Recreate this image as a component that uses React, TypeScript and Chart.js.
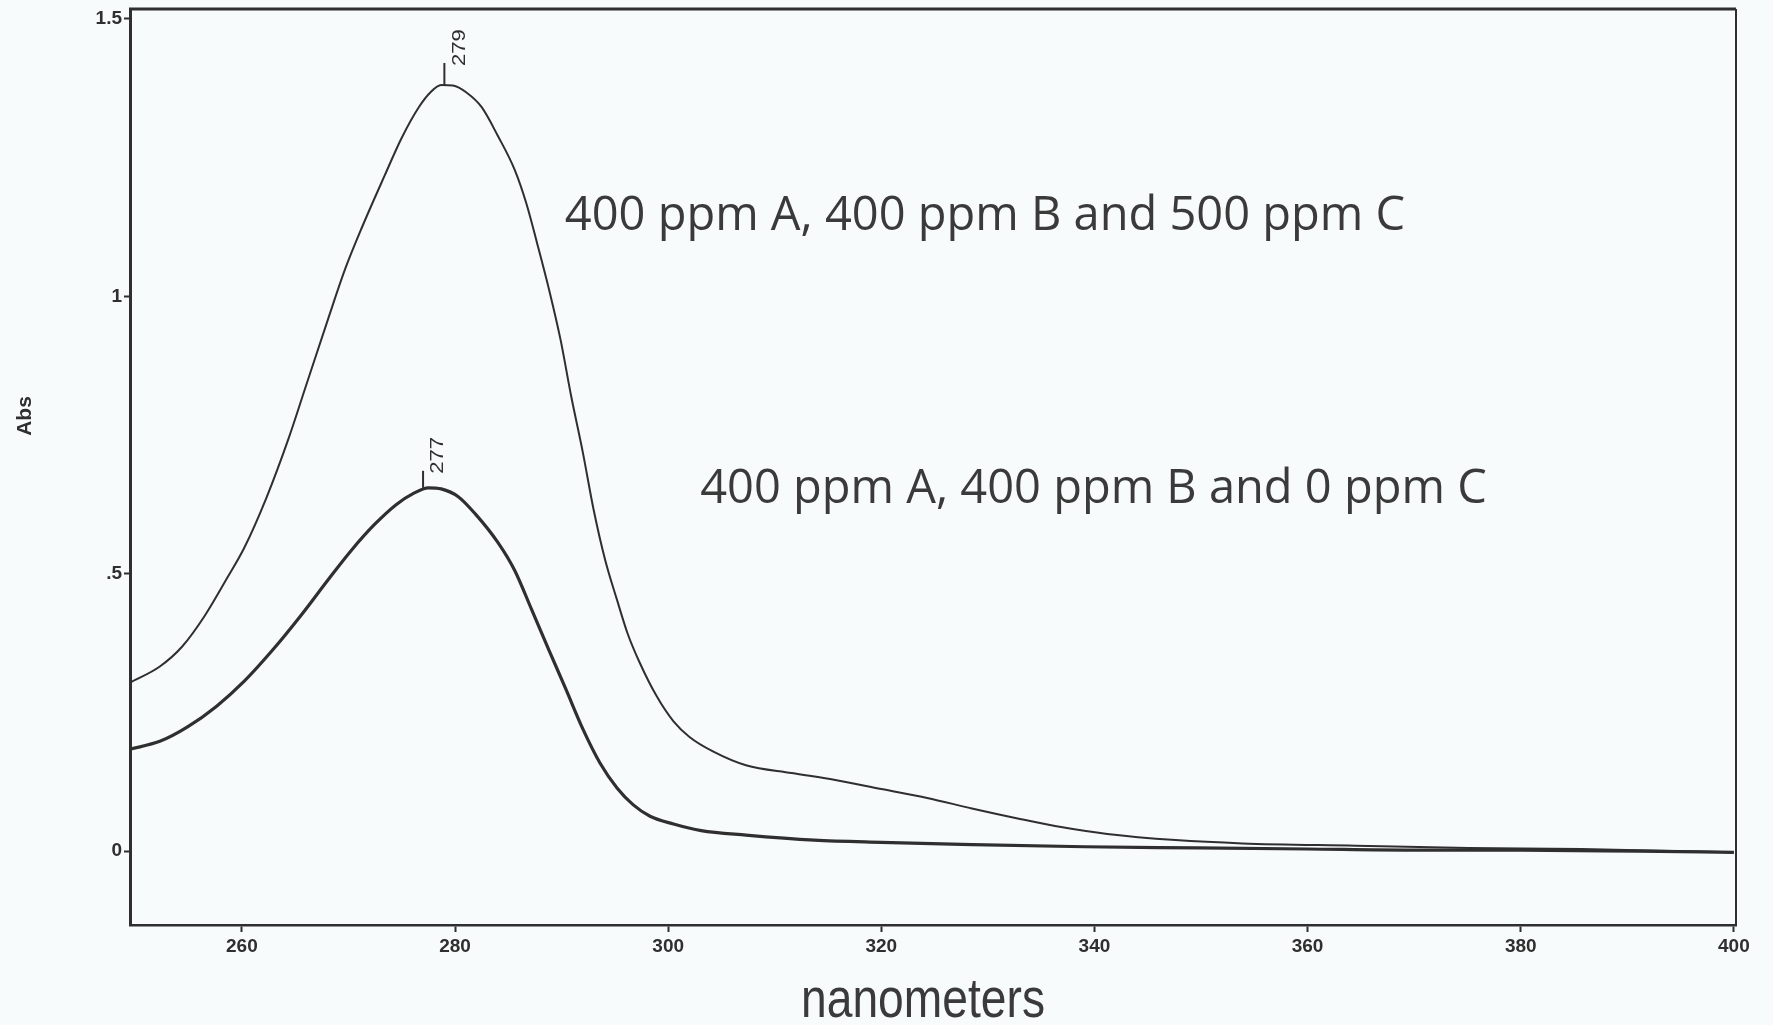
import React, { useEffect, useRef } from 'react';
import { Chart, registerables } from 'chart.js';

Chart.register(...registerables);

// ---- data ----
const upperWavelengths = [249.5, 252.3, 254.4, 256.5, 258.6, 260.2, 262.3, 264.4, 266.0, 268.1, 269.7, 271.3, 273.4, 275.0, 276.6, 277.7, 278.7, 279.8, 281.1, 282.5, 284.0, 285.6, 286.7, 287.7, 288.8, 289.9, 290.9, 292.0, 293.0, 294.1, 295.2, 296.2, 297.3, 298.9, 300.5, 302.0, 304.2, 307.3, 311.6, 315.8, 320.0, 324.3, 328.5, 332.8, 337.0, 341.2, 347.6, 353.9, 364.5, 375.1, 385.7, 400.0];
const upperAbs = [0.304, 0.333, 0.369, 0.424, 0.492, 0.546, 0.637, 0.745, 0.838, 0.960, 1.050, 1.126, 1.218, 1.286, 1.341, 1.368, 1.381, 1.380, 1.367, 1.341, 1.290, 1.228, 1.167, 1.096, 1.014, 0.922, 0.820, 0.718, 0.616, 0.524, 0.453, 0.392, 0.341, 0.280, 0.234, 0.206, 0.180, 0.155, 0.141, 0.128, 0.112, 0.096, 0.077, 0.059, 0.043, 0.031, 0.020, 0.014, 0.010, 0.006, 0.004, -0.002];

const lowerWavelengths = [249.5, 252.3, 254.9, 257.6, 260.2, 262.9, 265.5, 268.2, 270.3, 272.4, 274.5, 276.1, 277.5, 278.7, 280.3, 281.9, 284.0, 285.6, 287.2, 288.8, 290.4, 292.0, 293.6, 295.2, 296.7, 298.3, 300.5, 303.1, 307.3, 313.7, 320.0, 328.5, 339.1, 349.7, 360.0, 369.8, 380.0, 391.0, 400.0];
const lowerAbs = [0.184, 0.198, 0.224, 0.261, 0.306, 0.363, 0.424, 0.492, 0.543, 0.588, 0.625, 0.645, 0.655, 0.653, 0.639, 0.608, 0.557, 0.506, 0.435, 0.363, 0.292, 0.220, 0.159, 0.114, 0.084, 0.063, 0.049, 0.037, 0.029, 0.020, 0.016, 0.012, 0.008, 0.006, 0.004, 0.002, 0.002, 0.000, -0.002];

const xTickValues = [260, 280, 300, 320, 340, 360, 380, 400];
const yTickValues = [0, 0.5, 1, 1.5];
const yTickLabels = ['0', '.5', '1', '1.5'];

const peakWavelengths = [279, 277];
const peakAbs = [1.381, 0.655];
const peakLabels = ['279', '277'];

const seriesLabels = ['400 ppm A, 400 ppm B and 500 ppm C', '400 ppm A, 400 ppm B and 0 ppm C'];
const labelAnchorX = [290.3, 303.0];
const labelAnchorY = [1.12, 0.628];

const xTitle = 'nanometers';
const yTitle = 'Abs';

// ---- styles ----
const INK = '#2f2f2f';
const TEXT = '#3a3a3a';
const BG = '#f8fbfb';

const decorPlugin = {
  id: 'decor',
  beforeDraw(chart: any) {
    const { ctx, width, height } = chart;
    ctx.save();
    ctx.fillStyle = BG;
    ctx.fillRect(0, 0, width, height);
    ctx.restore();
  },
  afterDatasetsDraw(chart: any) {
    const { ctx, chartArea, scales } = chart;
    const xs = scales.x;
    const ys = scales.y;
    ctx.save();
    // frame top & right
    ctx.strokeStyle = INK;
    ctx.lineWidth = 3;
    ctx.beginPath();
    ctx.moveTo(chartArea.left - 1, chartArea.top);
    ctx.lineTo(chartArea.right, chartArea.top);
    ctx.stroke();
    ctx.lineWidth = 2;
    ctx.beginPath();
    ctx.moveTo(chartArea.right, chartArea.top);
    ctx.lineTo(chartArea.right, chartArea.bottom);
    ctx.stroke();

    // peak markers
    const stemLen = [22, 17];
    const labelOffset = [16, 15];
    peakWavelengths.forEach((w, i) => {
      const px = xs.getPixelForValue(w);
      const py = ys.getPixelForValue(peakAbs[i]);
      const top = py - stemLen[i];
      ctx.strokeStyle = INK;
      ctx.lineWidth = 2;
      ctx.beginPath();
      ctx.moveTo(px, py);
      ctx.lineTo(px, top);
      ctx.stroke();
      ctx.save();
      ctx.translate(px + labelOffset[i], top + 3);
      ctx.rotate(-Math.PI / 2);
      ctx.scale(1.05, 0.85);
      ctx.fillStyle = INK;
      ctx.font = "21px 'Liberation Sans', Arial, sans-serif";
      ctx.textAlign = 'left';
      ctx.textBaseline = 'middle';
      ctx.fillText(peakLabels[i], 0, 0);
      ctx.restore();
    });

    // series annotations
    ctx.fillStyle = TEXT;
    ctx.font = "47px 'Open Sans', 'Noto Sans', sans-serif";
    ctx.textAlign = 'left';
    ctx.textBaseline = 'alphabetic';
    seriesLabels.forEach((t, i) => {
      ctx.fillText(t, xs.getPixelForValue(labelAnchorX[i]), ys.getPixelForValue(labelAnchorY[i]));
    });

    // y title
    ctx.save();
    ctx.translate(25, 416);
    ctx.rotate(-Math.PI / 2);
    ctx.fillStyle = INK;
    ctx.font = "bold 21px 'Liberation Sans', Arial, sans-serif";
    ctx.textAlign = 'center';
    ctx.textBaseline = 'middle';
    ctx.fillText(yTitle, 0, 0);
    ctx.restore();

    // x title (narrow sans)
    ctx.save();
    ctx.translate(923, 1017);
    ctx.scale(0.84, 1);
    ctx.fillStyle = TEXT;
    ctx.font = "55px 'Liberation Sans', Arial, sans-serif";
    ctx.textAlign = 'center';
    ctx.textBaseline = 'alphabetic';
    ctx.fillText(xTitle, 0, 0);
    ctx.restore();

    ctx.restore();
  },
};

export default function App() {
  const canvasRef = useRef<HTMLCanvasElement | null>(null);

  useEffect(() => {
    document.body.style.margin = '0';
    document.body.style.background = BG;
    const canvas = canvasRef.current;
    if (!canvas) return;

    const upperPts = upperWavelengths.map((x, i) => ({ x, y: upperAbs[i] }));
    const lowerPts = lowerWavelengths.map((x, i) => ({ x, y: lowerAbs[i] }));

    const tickFont = { family: "'Liberation Sans', Arial, sans-serif", size: 19, weight: 'bold' as const };

    const chart = new Chart(canvas, {
      type: 'line',
      data: {
        datasets: [
          {
            label: seriesLabels[0],
            data: upperPts,
            borderColor: INK,
            borderWidth: 2,
            pointRadius: 0,
            tension: 0.4,
            cubicInterpolationMode: 'monotone',
            fill: false,
          },
          {
            label: seriesLabels[1],
            data: lowerPts,
            borderColor: INK,
            borderWidth: 3.2,
            pointRadius: 0,
            tension: 0.4,
            cubicInterpolationMode: 'monotone',
            fill: false,
          },
        ],
      },
      options: {
        animation: false,
        responsive: true,
        maintainAspectRatio: false,
        devicePixelRatio: 1,
        layout: { padding: { top: 9, right: 37, left: 0, bottom: 0 } },
        plugins: {
          legend: { display: false },
          tooltip: { enabled: false },
          title: { display: false },
        },
        scales: {
          x: {
            type: 'linear',
            min: 249.5,
            max: 400.2,
            afterBuildTicks: (s: any) => {
              s.ticks = xTickValues.map((v) => ({ value: v }));
            },
            afterFit: (s: any) => {
              s.height = 100;
              s.paddingLeft = 0;
              s.paddingRight = 0;
            },
            ticks: {
              color: INK,
              font: tickFont,
              padding: 3,
              maxRotation: 0,
              autoSkip: false,
              callback: (v: any) => String(v),
            },
            grid: {
              drawOnChartArea: false,
              drawTicks: true,
              tickLength: 7,
              tickColor: INK,
              tickWidth: 2,
            },
            border: { display: true, color: INK, width: 2.5 },
            title: { display: false },
          },
          y: {
            type: 'linear',
            min: -0.133,
            max: 1.518,
            afterBuildTicks: (s: any) => {
              s.ticks = yTickValues.map((v) => ({ value: v }));
            },
            afterFit: (s: any) => {
              s.width = 130;
              s.paddingTop = 0;
              s.paddingBottom = 0;
            },
            ticks: {
              color: INK,
              font: tickFont,
              padding: 2,
              autoSkip: false,
              callback: (v: any) => {
                const i = yTickValues.indexOf(Number(v));
                return i >= 0 ? yTickLabels[i] : '';
              },
            },
            grid: {
              drawOnChartArea: false,
              drawTicks: true,
              tickLength: 6,
              tickColor: INK,
              tickWidth: 2,
            },
            border: { display: true, color: INK, width: 3 },
          },
        },
      },
      plugins: [decorPlugin],
    });

    return () => {
      chart.destroy();
    };
  }, []);

  return (
    <div style={{ position: 'fixed', left: 0, top: 0, width: 1773, height: 1025, background: BG }}>
      <canvas ref={canvasRef} />
    </div>
  );
}
